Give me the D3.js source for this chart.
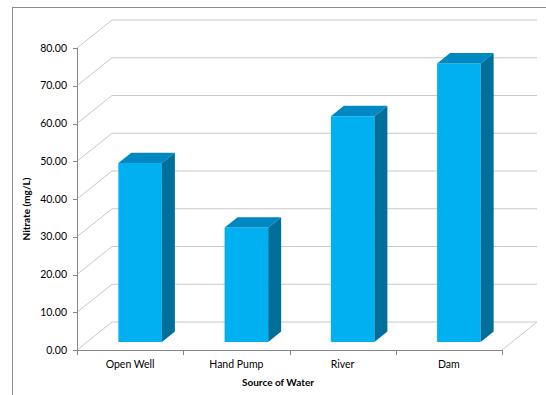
<!DOCTYPE html>
<html>
<head>
<meta charset="utf-8">
<script src="https://cdn.jsdelivr.net/npm/d3@7"></script>
<style>
  body { margin: 0; background: #fff; }
  svg { display: block; font-family: Lato, "Open Sans", sans-serif; }
</style>
</head>
<body>
<div id="chart"></div>
<script>
// Datos del grafico
const categories = ["Open Well", "Hand Pump", "River", "Dam"];
const nitrate = [47.4, 30.3, 59.8, 73.8];
const yTicks = [0, 10, 20, 30, 40, 50, 60, 70, 80];

const width = 546, height = 395;
const depth = { x: 35, y: -28 };      // vector de profundidad 3D
const barFront = 0.286, barBack = 0.657;

const svg = d3.select("#chart").append("svg")
  .attr("width", width).attr("height", height);

// marco exterior
svg.append("rect")
  .attr("x", 12.5).attr("y", 7.5)
  .attr("width", 600).attr("height", 500)
  .attr("fill", "none").attr("stroke", "#8c8c8c");

const x = d3.scaleBand().domain(categories).range([77, 502]).padding(0);
const y = d3.scaleLinear().domain([0, 80]).range([350, 48]);

const off = (p, t) => [p[0] + depth.x * t, p[1] + depth.y * t];

// lineas de cuadricula (pared trasera y diagonal izquierda)
const grid = svg.append("g").attr("stroke", "#c8c8c8").attr("fill", "none");
yTicks.forEach((v) => {
  const p0 = [x.range()[0], y(v)];
  const p1 = off(p0, 1);
  grid.append("path")
    .attr("d", d3.line()([p0, p1, [x.range()[1] + depth.x, p1[1]]]));
});
// borde derecho del suelo
grid.append("path")
  .attr("d", d3.line()([[x.range()[1], y(0)], off([x.range()[1], y(0)], 1)]));

// ejes
const axis = svg.append("g").attr("stroke", "#868686").attr("fill", "none");
axis.append("line")
  .attr("x1", 77.5).attr("x2", 77.5).attr("y1", y(80)).attr("y2", y(0));
axis.append("line")
  .attr("x1", 77).attr("x2", 502).attr("y1", y(0) + 0.5).attr("y2", y(0) + 0.5);
yTicks.forEach((v) => {
  axis.append("line")
    .attr("x1", 73).attr("x2", 77).attr("y1", Math.round(y(v)) + 0.5).attr("y2", Math.round(y(v)) + 0.5);
});
categories.concat([null]).forEach((c, i) => {
  const xx = Math.round(c ? x(c) : x.range()[1]) + 0.5;
  axis.append("line")
    .attr("x1", xx).attr("x2", xx).attr("y1", y(0)).attr("y2", y(0) + 5);
});

// etiquetas del eje Y
svg.append("g").selectAll("text").data(yTicks).join("text")
  .attr("x", 67).attr("y", (d) => y(d)).attr("dy", "0.35em")
  .attr("text-anchor", "end").attr("font-size", 10.5).attr("fill", "#000")
  .text((d) => d.toFixed(2));

// etiquetas de categorias
svg.append("g").selectAll("text").data(categories).join("text")
  .attr("x", (d) => x(d) + x.bandwidth() / 2).attr("y", 368)
  .attr("text-anchor", "middle").attr("font-size", 10.5).attr("fill", "#000")
  .text((d) => d);

// titulos de ejes
svg.append("text")
  .attr("x", 278).attr("y", 386).attr("text-anchor", "middle")
  .attr("font-size", 10).attr("font-weight", "bold").text("Source of Water");
svg.append("text")
  .attr("transform", "translate(30,209) rotate(-90)").attr("text-anchor", "middle")
  .attr("font-size", 10).attr("font-weight", "bold").text("Nitrate (mg/L)");

// barras 3D
const barW = x.bandwidth() * 0.41;
const bars = svg.append("g");
categories.forEach((c, i) => {
  const cx = x(c) + x.bandwidth() / 2;
  const xl = cx - barW / 2, xr = cx + barW / 2;
  const yt = y(nitrate[i]), yb = y(0);
  const g = bars.append("g");
  const poly = (pts) => "M" + pts.map((p) => p.join(",")).join("L") + "Z";
  g.append("path").attr("fill", "#00b0f0")
    .attr("d", poly([off([xl, yt], barFront), off([xr, yt], barFront), off([xr, yb], barFront), off([xl, yb], barFront)]));
  g.append("path").attr("fill", "#006f9b")
    .attr("d", poly([off([xr, yt], barFront), off([xr, yt], barBack), off([xr, yb], barBack), off([xr, yb], barFront)]));
  g.append("path").attr("fill", "#0088c2")
    .attr("d", poly([off([xl, yt], barFront), off([xl, yt], barBack), off([xr, yt], barBack), off([xr, yt], barFront)]));
});
</script>
</body>
</html>
